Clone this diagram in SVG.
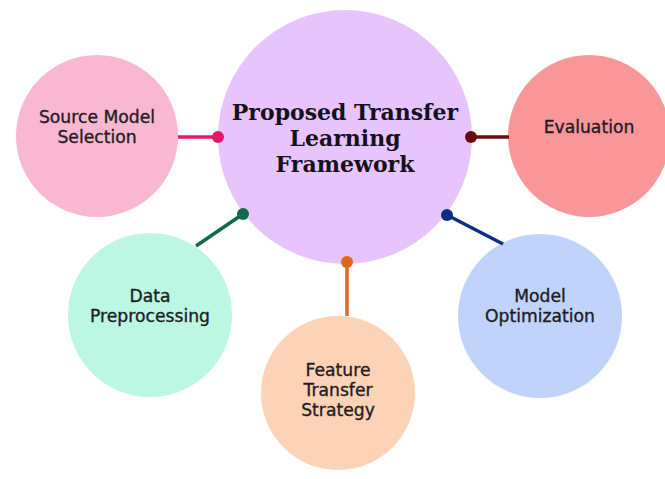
<svg xmlns="http://www.w3.org/2000/svg" width="665" height="479" viewBox="0 0 665 479">
  <style>
    .lbl { font-family: "DejaVu Sans", "Open Sans", sans-serif; font-size: 17.2px; fill: #1d1d24; stroke: #1d1d24; stroke-width: 0.35; text-anchor: middle; }
    .title { font-family: "DejaVu Serif", "Liberation Serif", serif; font-weight: bold; font-size: 22px; fill: #16121c; text-anchor: middle; }
    .link { stroke-width: 3.5; fill: none; }
  </style>
  <rect width="665" height="479" fill="#ffffff"/>

  <g id="framework">
    <circle cx="345" cy="137" r="127" fill="#e7c4fb"/>
    <text class="title" x="345" y="120">Proposed Transfer</text>
    <text class="title" x="345" y="146">Learning</text>
    <text class="title" x="345" y="172">Framework</text>
  </g>

  <g id="source-model-selection">
    <circle cx="97" cy="136" r="81" fill="#f9b7d1"/>
    <text class="lbl" x="97" y="123">Source Model</text>
    <text class="lbl" x="97" y="143">Selection</text>
  </g>

  <g id="evaluation">
    <circle cx="589" cy="136" r="81" fill="#f99698"/>
    <text class="lbl" x="589" y="133">Evaluation</text>
  </g>

  <g id="data-preprocessing">
    <circle cx="150" cy="315" r="82" fill="#bbf7e3"/>
    <text class="lbl" x="150" y="302">Data</text>
    <text class="lbl" x="150" y="322">Preprocessing</text>
  </g>

  <g id="feature-transfer-strategy">
    <circle cx="338" cy="393" r="77" fill="#fdd3b7"/>
    <text class="lbl" x="338" y="376">Feature</text>
    <text class="lbl" x="338" y="396">Transfer</text>
    <text class="lbl" x="338" y="416">Strategy</text>
  </g>

  <g id="model-optimization">
    <circle cx="540" cy="316" r="82" fill="#c0d4fb"/>
    <text class="lbl" x="540" y="302">Model</text>
    <text class="lbl" x="540" y="322">Optimization</text>
  </g>

  <!-- connectors: a stem from each outer circle ending in a dot on the hub -->
  <g id="connectors">
    <line class="link" x1="178" y1="137" x2="218" y2="137" stroke="#e5176d"/>
    <circle cx="218" cy="137" r="6" fill="#e5176d"/>
    <line class="link" x1="471" y1="137" x2="509" y2="137" stroke="#6b0b0e"/>
    <circle cx="471" cy="137" r="6" fill="#6b0b0e"/>
    <line class="link" x1="243" y1="214" x2="196" y2="246" stroke="#116b47"/>
    <circle cx="243" cy="214" r="6" fill="#116b47"/>
    <line class="link" x1="347" y1="262" x2="347" y2="316" stroke="#e4651f"/>
    <circle cx="347" cy="262" r="6" fill="#e4651f"/>
    <line class="link" x1="447" y1="215" x2="503" y2="244" stroke="#0d2e86"/>
    <circle cx="447" cy="215" r="6" fill="#0d2e86"/>
  </g>
</svg>
